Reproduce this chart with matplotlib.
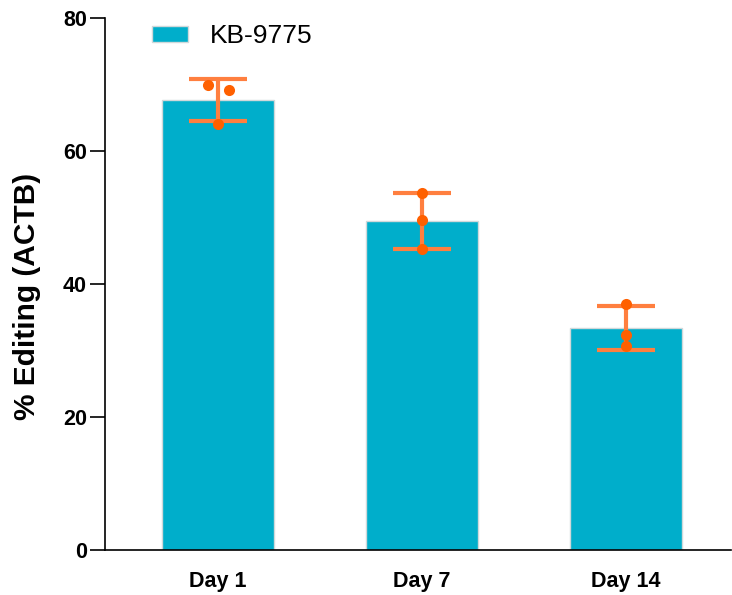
import matplotlib
matplotlib.use("Agg")
import matplotlib.pyplot as plt
import numpy as np

categories = ["Day 1", "Day 7", "Day 14"]
means = [67.7, 49.5, 33.4]
sds = [3.2, 4.2, 3.3]
replicates = [[69.9, 69.1, 64.1], [53.7, 49.6, 45.3], [37.0, 32.4, 30.7]]
jitter = [[-0.05, 0.054, 0.0], [0.0, 0.0, 0.0], [0.0, 0.0, 0.0]]
series_name = "KB-9775"
yticks = [0, 20, 40, 60, 80]

bar_color = "#00AECB"
err_color = "#FF7F3F"
pt_color = "#FF6000"

plt.rcParams["font.family"] = ["Liberation Sans", "DejaVu Sans"]

fig = plt.figure(figsize=(7.32, 5.95), dpi=100)
ax = fig.add_axes([105/732, 1-550/595, 626/732, 532/595])

x = np.arange(len(categories))
bars = ax.bar(x, means, width=0.55, color=bar_color, edgecolor="#d0d8da",
              linewidth=1.0, label=series_name, zorder=1)
ax.errorbar(x, means, yerr=sds, fmt="none", ecolor=err_color, elinewidth=3,
            capsize=21, capthick=3, zorder=2, solid_capstyle="round")
for i in range(len(categories)):
    xs = [x[i] + j for j in jitter[i]]
    ax.plot(xs, replicates[i], "o", color=pt_color, markersize=8,
            markeredgewidth=0, zorder=3)

ax.set_xlim(-0.555, 2.515)
ax.set_ylim(0, 80)
ax.set_yticks(yticks)
ax.set_yticklabels([str(t) for t in yticks], fontsize=15.5, fontweight="bold")
ax.set_xticks(x)
ax.set_xticklabels(categories, fontsize=15.5, fontweight="bold")
ax.tick_params(axis="x", length=0, pad=15)
ax.tick_params(axis="y", length=11, width=1.2, pad=2)
for s in ["top", "right"]:
    ax.spines[s].set_visible(False)
for s in ["left", "bottom"]:
    ax.spines[s].set_linewidth(1.2)

ax.set_ylabel("% Editing (ACTB)", fontsize=21.5, fontweight="bold")
ax.yaxis.set_label_coords(-0.103, 0.477)

leg = fig.legend(handles=[bars], labels=[series_name], loc="center left",
                 bbox_to_anchor=(152/732, 1-36/595), frameon=False,
                 fontsize=19, handlelength=1.36, handleheight=0.57,
                 handletextpad=0.83, borderpad=0, borderaxespad=0)

fig.savefig("out.png", dpi=100)
